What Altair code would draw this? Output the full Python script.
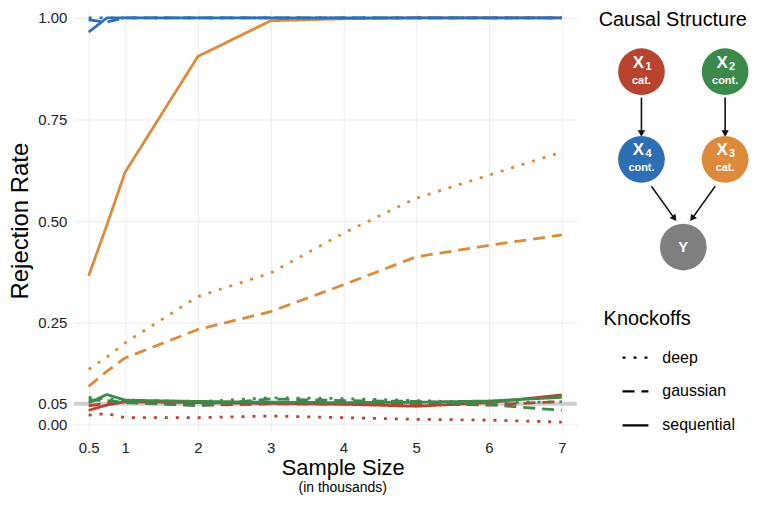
import altair as alt
import pandas as pd

FONT = "Liberation Sans"

# ---------------- data ----------------
sizes = [0.5, 0.75, 1, 2, 3, 4, 5, 6, 7]
variables = ["X1", "X2", "X3", "X4"]
knockoffs = ["deep", "gaussian", "sequential"]

x1_deep = [0.022, 0.026, 0.016, 0.016, 0.020, 0.016, 0.012, 0.010, 0.005]
x1_gaussian = [0.045, 0.052, 0.054, 0.046, 0.050, 0.050, 0.050, 0.047, 0.056]
x1_sequential = [0.034, 0.047, 0.055, 0.053, 0.051, 0.049, 0.044, 0.053, 0.072]

x2_deep = [0.066, 0.062, 0.060, 0.055, 0.065, 0.063, 0.058, 0.053, 0.055]
x2_gaussian = [0.060, 0.058, 0.053, 0.046, 0.062, 0.058, 0.056, 0.048, 0.034]
x2_sequential = [0.052, 0.073, 0.059, 0.056, 0.054, 0.053, 0.054, 0.057, 0.066]

x3_deep = [0.135, 0.165, 0.200, 0.314, 0.372, 0.470, 0.556, 0.613, 0.670]
x3_gaussian = [0.093, 0.130, 0.163, 0.233, 0.277, 0.343, 0.412, 0.440, 0.466]
x3_sequential = [0.365, 0.490, 0.620, 0.905, 0.993, 0.998, 1.000, 1.000, 1.000]

x4_deep = [1.000, 1.000, 1.000, 1.000, 1.000, 1.000, 1.000, 1.000, 1.000]
x4_gaussian = [0.995, 0.990, 1.000, 1.000, 1.000, 1.000, 1.000, 1.000, 1.000]
x4_sequential = [0.965, 1.000, 1.000, 1.000, 1.000, 1.000, 1.000, 1.000, 1.000]

x_ticks = [0.5, 1, 2, 3, 4, 5, 6, 7]
y_ticks = [0.0, 0.05, 0.25, 0.50, 0.75, 1.0]
nominal_level = [0.05]

series = {
    ("X1", "deep"): x1_deep, ("X1", "gaussian"): x1_gaussian, ("X1", "sequential"): x1_sequential,
    ("X2", "deep"): x2_deep, ("X2", "gaussian"): x2_gaussian, ("X2", "sequential"): x2_sequential,
    ("X3", "deep"): x3_deep, ("X3", "gaussian"): x3_gaussian, ("X3", "sequential"): x3_sequential,
    ("X4", "deep"): x4_deep, ("X4", "gaussian"): x4_gaussian, ("X4", "sequential"): x4_sequential,
}
rows = []
for (var, ko), vals in series.items():
    for s, v in zip(sizes, vals):
        rows.append({"variable": var, "knockoff": ko, "size": s, "rate": v})
df = pd.DataFrame(rows)

# ---------------- styles ----------------
var_colors = ["#b8432f", "#3b8a4c", "#dd8a3b", "#2e6eb5"]
dash_styles = [[3, 8], [12, 7], [1, 0]]
color_scale = alt.Scale(domain=variables, range=var_colors)
dash_scale = alt.Scale(domain=knockoffs, range=dash_styles)

xscale = alt.Scale(domain=[0.295, 7.205], nice=False, zero=False)
yscale = alt.Scale(domain=[-0.02, 1.022], nice=False, zero=False)

x_axis = alt.Axis(values=x_ticks, format="~g", title="Sample Size", grid=True,
                  gridColor="#ebebeb", domain=False, ticks=False, labelPadding=8,
                  labelFontSize=15, labelFont=FONT, labelColor="#222222",
                  titleFont=FONT, titleFontSize=22, titleFontWeight="normal",
                  titleColor="#000000", titlePadding=2, titleX=270, titleAlign="center")
y_axis = alt.Axis(values=y_ticks, format=".2f", title="Rejection Rate", grid=True,
                  gridColor="#ebebeb", domain=False, ticks=False, labelPadding=7,
                  labelFontSize=15, labelFont=FONT, labelColor="#222222",
                  titleFont=FONT, titleFontSize=24, titleFontWeight="normal",
                  titleColor="#000000", titlePadding=5)

ref = alt.Chart(pd.DataFrame({"level": nominal_level})).mark_rule(
    color="#cfcfcf", strokeWidth=4
).encode(y=alt.Y("level:Q", scale=yscale, axis=y_axis))

axes_layer = alt.Chart(df).mark_line(opacity=0).encode(
    x=alt.X("size:Q", scale=xscale, axis=x_axis),
    y=alt.Y("rate:Q", scale=yscale, axis=y_axis),
)

line_layers = []
for var in ["X3", "X4", "X1", "X2"]:
    line_layers.append(
        alt.Chart(df[df["variable"] == var]).mark_line(strokeWidth=2.8, strokeCap="butt").encode(
            x=alt.X("size:Q", scale=xscale, axis=x_axis),
            y=alt.Y("rate:Q", scale=yscale, axis=y_axis),
            color=alt.Color("variable:N", scale=color_scale, legend=None),
            strokeDash=alt.StrokeDash("knockoff:N", scale=dash_scale, legend=None),
        )
    )

subtitle = alt.Chart(pd.DataFrame({"t": ["(in thousands)"], "x": [3.99]})).mark_text(
    font=FONT, fontSize=14, baseline="middle", align="center", color="#000000"
).encode(x=alt.X("x:Q", scale=xscale, axis=x_axis), y=alt.value(481), text="t:N")

main = alt.layer(axes_layer, ref, *line_layers, subtitle).properties(width=505, height=425)

# ---------------- causal structure diagram (right panel) ----------------
node_names = ["X1", "X2", "X4", "X3", "Y"]
node_types = ["cat.", "cont.", "cont.", "cat.", ""]
node_digits = ["1", "2", "4", "3", ""]
node_fill = ["#b8432f", "#3b8a4c", "#2e6eb5", "#dd8a3b", "#7f7f7f"]
# diagram layout (panel coordinates)
node_px = [641, 725, 641, 725, 683]
node_py = [71, 71, 159, 159, 247]

nodes = pd.DataFrame({"name": node_names, "type": node_types, "digit": node_digits,
                      "px": node_px, "py": node_py,
                      "letter": ["X", "X", "X", "X", "Y"]})

dx = alt.Scale(domain=[590, 755], nice=False, zero=False)
dy = alt.Scale(domain=[8, 433], nice=False, zero=False, reverse=True)
node_color = alt.Scale(domain=node_names, range=node_fill)

def X(field, **kw):
    return alt.X(field, scale=dx, axis=None, **kw)

def Y(field, **kw):
    return alt.Y(field, scale=dy, axis=None, **kw)

circles = alt.Chart(nodes).mark_circle(size=2200, opacity=1).encode(
    x=X("px:Q"), y=Y("py:Q"),
    color=alt.Color("name:N", scale=node_color, legend=None),
)
xnodes = nodes[nodes["letter"] == "X"]
letters = alt.Chart(xnodes).mark_text(
    font=FONT, fontSize=17, fontWeight="bold", color="white", dx=-3, dy=-9, baseline="middle"
).encode(x=X("px:Q"), y=Y("py:Q"), text="letter:N")
digits = alt.Chart(xnodes).mark_text(
    font=FONT, fontSize=11, fontWeight="bold", color="white", dx=7, dy=-5, baseline="middle"
).encode(x=X("px:Q"), y=Y("py:Q"), text="digit:N")
types = alt.Chart(xnodes).mark_text(
    font=FONT, fontSize=11, fontWeight="bold", color="white", dy=9, baseline="middle"
).encode(x=X("px:Q"), y=Y("py:Q"), text="type:N")
ynode = alt.Chart(nodes[nodes["letter"] == "Y"]).mark_text(
    font=FONT, fontSize=15, fontWeight="bold", color="white", baseline="middle"
).encode(x=X("px:Q"), y=Y("py:Q"), text="letter:N")

edges = pd.DataFrame({
    "x": [641, 725, 651, 715], "y": [97, 97, 186, 186],
    "x2": [641, 725, 673.5, 692.5], "y2": [131, 131, 217.5, 217.5],
    "hx": [641, 725, 673.5, 692.5], "hy": [132, 132, 217.5, 217.5],
    "angle": [180, 180, 144, 216],
})
edge_lines = alt.Chart(edges).mark_rule(color="#111111", strokeWidth=1.6).encode(
    x=X("x:Q"), y=Y("y:Q"), x2="x2:Q", y2="y2:Q")
heads = alt.Chart(edges).mark_point(shape="triangle", filled=True, size=55,
                                    color="#111111", opacity=1).encode(
    x=X("hx:Q"), y=Y("hy:Q"), angle=alt.Angle("angle:Q", scale=None))

titles = alt.Chart(pd.DataFrame({"t": ["Causal Structure", "Knockoffs"],
                                 "px": [598, 603], "py": [19, 319]})).mark_text(
    font=FONT, fontSize=20, align="left", baseline="middle", color="#000000"
).encode(x=X("px:Q"), y=Y("py:Q"), text="t:N")

legend_df = pd.DataFrame({"knockoff": knockoffs, "py": [358, 392, 426],
                          "x0": [622] * 3, "x1": [648] * 3, "lx": [662] * 3})
legend_lines = alt.Chart(legend_df).mark_rule(strokeWidth=2.2, color="#000000").encode(
    x=X("x0:Q"), x2="x1:Q", y=Y("py:Q"),
    strokeDash=alt.StrokeDash("knockoff:N", scale=dash_scale, legend=None))
legend_text = alt.Chart(legend_df).mark_text(
    font=FONT, fontSize=16, align="left", baseline="middle", color="#000000"
).encode(x=X("lx:Q"), y=Y("py:Q"), text="knockoff:N")

side = alt.layer(edge_lines, heads, circles, letters, digits, types, ynode,
                 titles, legend_lines, legend_text).properties(width=165, height=425)

chart = alt.hconcat(main, side, spacing=12).resolve_scale(
    color="independent", strokeDash="independent"
).properties(padding={"left": 0, "top": 0, "right": 0, "bottom": 0}).configure_view(stroke=None)

chart.save("out.html", embed_options={"renderer": "svg", "actions": False})
